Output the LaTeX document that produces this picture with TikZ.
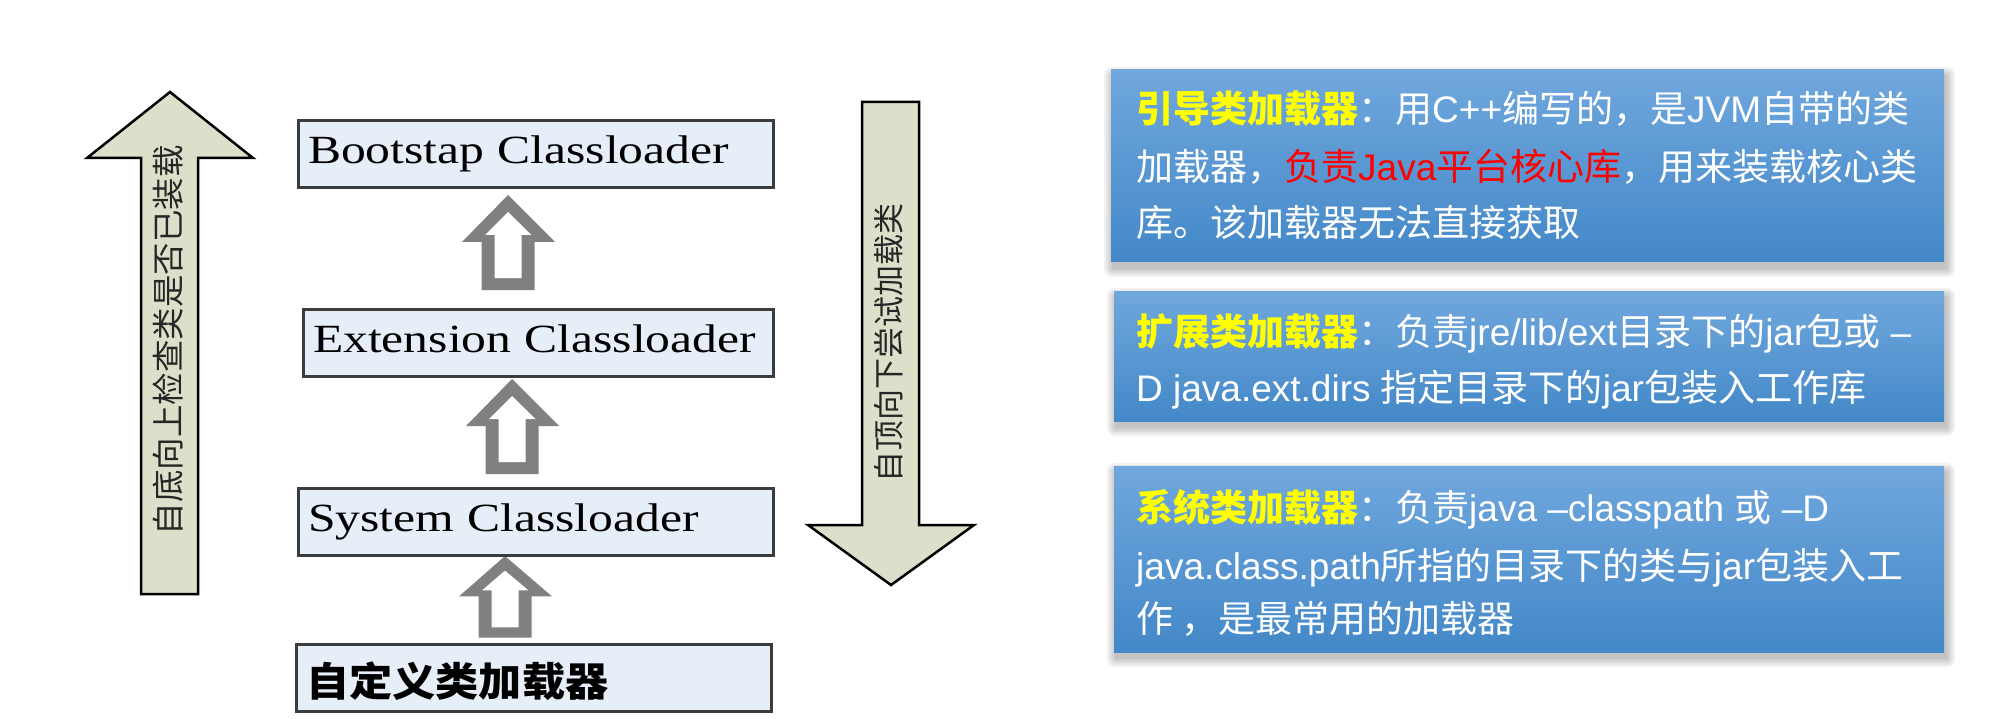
\documentclass[tikz,border=0pt]{standalone}
\usepackage{fontspec}
\setmainfont{Liberation Serif}
\newfontfamily\boxfont[FakeStretch=1.24]{Liberation Serif}
\newfontfamily\cjkbox[FakeStretch=1.08]{Noto Sans CJK SC}
\newfontfamily\arrfont{Noto Sans CJK SC}
\newfontfamily\pcjk{Noto Sans CJK SC}
\newfontfamily\plat{Liberation Sans}
\usetikzlibrary{calc}
\definecolor{boxfill}{HTML}{E6EEF8}
\definecolor{boxline}{HTML}{3C3C3C}
\definecolor{bigfill}{HTML}{DCE0CA}
\definecolor{hollowgray}{HTML}{808080}
\definecolor{ptop}{HTML}{70A7DD}
\definecolor{pbot}{HTML}{4388C8}
\definecolor{ttl}{HTML}{FFFF00}
\newcommand\Cj[1]{{\pcjk #1}}
\newcommand\Ttl[1]{{\pcjk\bfseries\color{ttl}#1}}
\newcommand\Rd[1]{{\color{red}#1}}
\pgfdeclarelayer{bg}
\pgfsetlayers{bg,main}
\begin{document}
\begin{tikzpicture}[x=1pt,y=-1pt,
  loader/.style={draw=boxline, line width=3pt, fill=boxfill, minimum width=475pt,
    minimum height=67pt, text width=455pt, inner xsep=10pt, inner ysep=0pt, align=left,
    text height=28pt, text depth=9pt, font=\boxfont\fontsize{40}{44}\selectfont},
  bigarrow/.style={draw=black, line width=2.5pt, fill=bigfill, line join=miter},
  arrowtext/.style={rotate=90, inner sep=0pt, text=black!85},
  panel/.style={rectangle, top color=ptop, bottom color=pbot, inner sep=0pt},
  pline/.style={anchor=base west, inner sep=0pt, text=white, font=\plat\fontsize{37}{42}\selectfont},
  hollow/.pic={
    \fill[hollowgray] (0,0) -- (47,47) -- (26.5,47) -- (26.5,95) -- (-26.5,95) -- (-26.5,47) -- (-46,47) -- cycle;
    \fill[white] (0,17) -- (23.5,40) -- (13.5,40) -- (13.5,83) -- (-13.5,83) -- (-13.5,40) -- (-23,40) -- cycle;
  }
]
\useasboundingbox (0,0) rectangle (2001,719);

% big direction arrows
\draw[bigarrow] (170,92) -- (253,158) -- (198,158) -- (198,594) -- (141,594) -- (141,158) -- (87,158) -- cycle;
\node[arrowtext, font=\arrfont\fontsize{32.5}{35}\selectfont] (uptext) at (168,340) {自底向上检查类是否已装载};
\draw[bigarrow] (862,102) -- (919,102) -- (919,525) -- (974,525) -- (891,585) -- (808,525) -- (862,525) -- cycle;
\node[arrowtext, font=\arrfont\fontsize{31}{34}\selectfont] (downtext) at (889,343) {自顶向下尝试加载类};

% hollow arrows between loaders
\pic at (508,195) {hollow};
\pic at (512,379) {hollow};
\pic[yscale=0.86] at (505,556) {hollow};

% loader boxes
\node[loader] (boot) at (535.5,154.5) {Bootstap Classloader};
\node[loader, minimum width=470pt, text width=450pt] (ext) at (538,343) {Extension Classloader};
\node[loader] (sys) at (535.5,522) {System Classloader};
\node[loader, text height=37pt, text depth=0pt, font=\cjkbox\bfseries\fontsize{40}{44}\selectfont] (cust) at (533.5,677.5) {自定义类加载器};

% panels
\node[panel, minimum width=833pt, minimum height=192pt] (p1) at (1527.5,166) {};
\node[panel, minimum width=830pt, minimum height=130pt] (p2) at (1529,356) {};
\node[panel, minimum width=830pt, minimum height=186pt] (p3) at (1529,559) {};
\begin{pgfonlayer}{bg}
  \foreach \p in {p1,p2,p3}{
    \foreach \d in {1,3,5,7,9}{
      \fill[black,opacity=0.05,rounded corners=\d pt] ($(\p.north west)+(2-\d,6-\d)$) rectangle ($(\p.south east)+(2+\d,6+\d)$);
    }
  }
\end{pgfonlayer}

\node[pline] (p1a) at (1136,123) {\Ttl{引导类加载器}\Cj{：用}C++\Cj{编写的，是}JVM\Cj{自带的类}};
\node[pline] (p1b) at (1136,181) {\Cj{加载器，}\Rd{\Cj{负责}Java\Cj{平台核心库}}\Cj{，用来装载核心类}};
\node[pline] (p1c) at (1136,237) {\Cj{库。该加载器无法直接获取}};

\node[pline] (p2a) at (1136,345) {\Ttl{扩展类加载器}\Cj{：负责}jre/lib/ext\Cj{目录下的}jar\Cj{包或} –};
\node[pline] (p2b) at (1136,401) {D java.ext.dirs \Cj{指定目录下的}jar\Cj{包装入工作库}};

\node[pline] (p3a) at (1136,521) {\Ttl{系统类加载器}\Cj{：负责}java –classpath \Cj{或} –D};
\node[pline] (p3b) at (1136,579) {java.class.path\Cj{所指的目录下的类与}jar\Cj{包装入工}};
\node[pline] (p3c) at (1136,632) {\Cj{作 ，是最常用的加载器}};
\end{tikzpicture}
\end{document}
